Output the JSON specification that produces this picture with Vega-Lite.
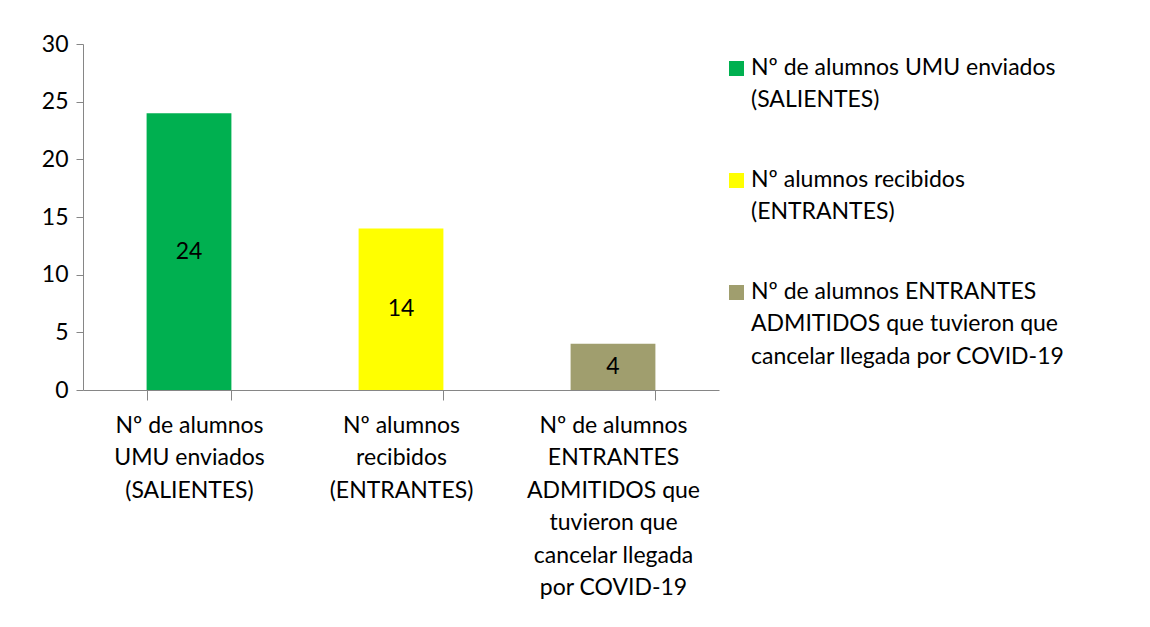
{
  "$schema": "https://vega.github.io/schema/vega-lite/v6.json",
  "autosize": {"type": "none"},
  "width": 636,
  "height": 346,
  "padding": {"left": 83, "top": 44, "right": 431, "bottom": 237},
  "background": "white",
  "data": {
    "values": [
      {"categoria": "Nº  de alumnos UMU enviados (SALIENTES)", "alumnos": 24},
      {"categoria": "Nº alumnos recibidos (ENTRANTES)", "alumnos": 14},
      {"categoria": "Nº de alumnos ENTRANTES ADMITIDOS que tuvieron que cancelar llegada por COVID-19", "alumnos": 4}
    ]
  },
  "config": {
    "font": "Lato",
    "view": {"stroke": null},
    "axis": {"labelFont": "Lato", "labelFontSize": 23, "labelColor": "black", "domainColor": "#868686", "tickColor": "#868686", "grid": false, "title": null}
  },
  "layer": [
    {
      "mark": {"type": "bar"},
      "encoding": {
        "x": {
          "field": "categoria", "type": "nominal", "sort": null,
          "scale": {"paddingInner": 0.6, "paddingOuter": 0.3},
          "axis": {
            "labelAngle": 0, "tickBand": "extent", "tickSize": 10, "labelPadding": 14,
            "labelLineHeight": 32.5, "labelBaseline": "top",
            "labelExpr": "datum.value == 'Nº  de alumnos UMU enviados (SALIENTES)' ? ['Nº  de alumnos', 'UMU enviados', '(SALIENTES)'] : datum.value == 'Nº alumnos recibidos (ENTRANTES)' ? ['Nº alumnos', 'recibidos', '(ENTRANTES)'] : datum.value == 'Nº de alumnos ENTRANTES ADMITIDOS que tuvieron que cancelar llegada por COVID-19' ? ['Nº de alumnos', 'ENTRANTES', 'ADMITIDOS que', 'tuvieron que', 'cancelar llegada', 'por COVID-19'] : ''"
          }
        },
        "y": {
          "field": "alumnos", "type": "quantitative",
          "scale": {"domain": [0, 30]},
          "axis": {"values": [0, 5, 10, 15, 20, 25, 30], "tickSize": 7, "labelPadding": 8, "labelFontSize": 23}
        },
        "color": {
          "field": "categoria", "type": "nominal", "sort": null,
          "scale": {"range": ["#00B050", "#FFFF00", "#A09E6E"]},
          "legend": {
            "title": null, "orient": "none", "legendX": 642, "legendY": 13,
            "symbolType": "square", "symbolSize": 225, "symbolStrokeWidth": 0,
            "labelFont": "Lato", "labelFontSize": 23, "labelColor": "black",
            "labelLimit": 420, "labelOffset": 3,
            "labelBaseline": "top",
            "rowPadding": 56,
            "encode": {"labels": {"update": {"dy": {"value": -12}, "lineHeight": {"value": 32.5}}}},
            "labelExpr": "datum.value == 'Nº  de alumnos UMU enviados (SALIENTES)' ? ['Nº  de alumnos UMU enviados', '(SALIENTES)'] : datum.value == 'Nº alumnos recibidos (ENTRANTES)' ? ['Nº alumnos recibidos', '(ENTRANTES)'] : ['Nº de alumnos ENTRANTES', 'ADMITIDOS que tuvieron que', 'cancelar llegada por COVID-19']"
          }
        }
      }
    },
    {
      "transform": [{"calculate": "datum.alumnos / 2", "as": "mitad"}],
      "mark": {"type": "text", "font": "Lato", "fontSize": 23, "color": "black"},
      "encoding": {
        "x": {"field": "categoria", "type": "nominal", "sort": null},
        "y": {"field": "mitad", "type": "quantitative"},
        "text": {"field": "alumnos", "type": "quantitative"}
      }
    }
  ]
}
